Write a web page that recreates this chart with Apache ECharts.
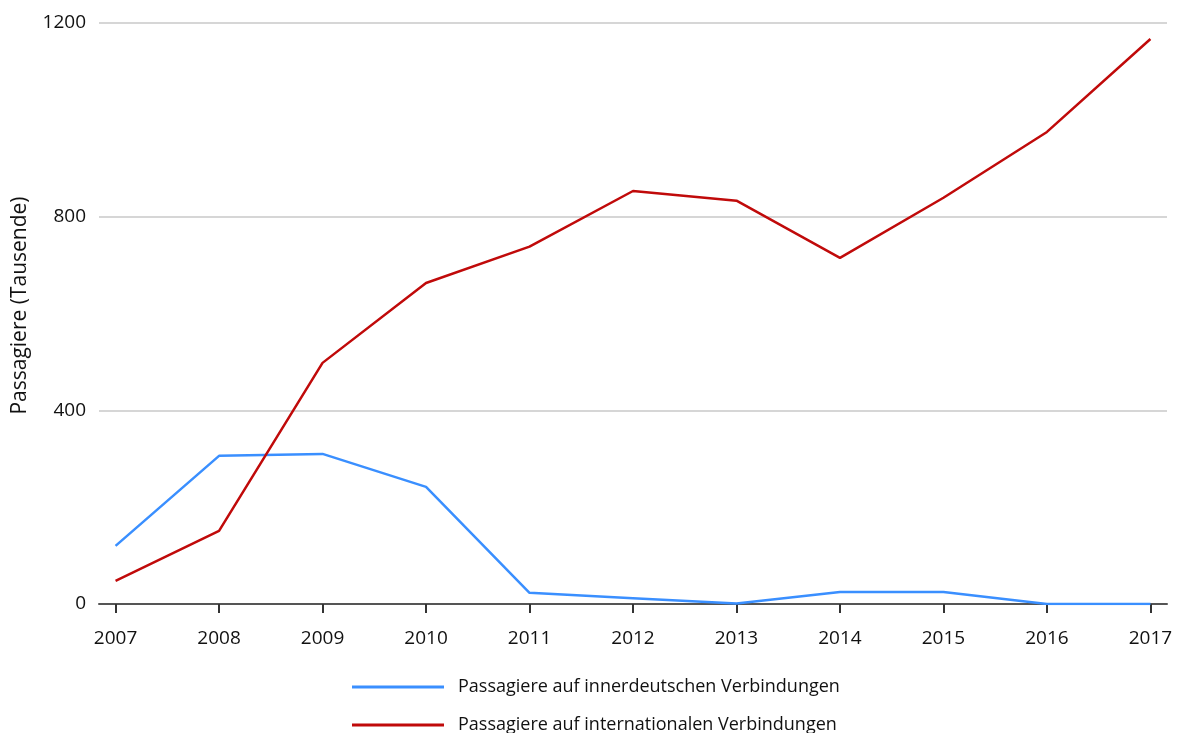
<!DOCTYPE html>
<html>
<head>
<meta charset="utf-8">
<script src="https://cdn.jsdelivr.net/npm/echarts@6/dist/echarts.min.js"></script>
<style>
html,body{margin:0;padding:0;background:#fff;}
#chart{width:1181px;height:733px;}
</style>
</head>
<body>
<div id="chart"></div>
<script>
const years = [2007, 2008, 2009, 2010, 2011, 2012, 2013, 2014, 2015, 2016, 2017];
const domestic = [120, 306, 310, 242, 23, 12, 1, 25, 25, 0, 0];
const international = [48, 151, 498, 663, 738, 853, 833, 715, 839, 975, 1167];
const yTicks = [0, 400, 800, 1200];
const seriesNames = ['Passagiere auf innerdeutschen Verbindungen', 'Passagiere auf internationalen Verbindungen'];
const yAxisName = 'Passagiere (Tausende)';

const font = 'Open Sans';
const legendBase = {
  orient: 'horizontal',
  left: 352,
  padding: 0,
  itemWidth: 92,
  itemHeight: 3,
  icon: 'rect',
  textStyle: {color: '#111', fontFamily: font, fontSize: 18, padding: [0, 0, 0, 9]}
};
const chart = echarts.init(document.getElementById('chart'));
chart.setOption({
  animation: false,
  backgroundColor: '#fff',
  grid: {left: 99, right: 14, top: 23, bottom: 129, containLabel: false},
  xAxis: {
    type: 'value',
    min: 2006.84,
    max: 2017.16,
    splitLine: {show: false},
    axisLine: {show: true, onZero: false, lineStyle: {color: '#555', width: 2}},
    axisTick: {show: true, customValues: years, length: 9, lineStyle: {color: '#333', width: 2}},
    axisLabel: {customValues: years, color: '#111', fontFamily: font, fontSize: 19, margin: 25,
      formatter: v => String(v)}
  },
  yAxis: {
    type: 'value',
    min: yTicks[0], max: yTicks[yTicks.length - 1], interval: yTicks[1] - yTicks[0],
    name: yAxisName,
    nameLocation: 'middle',
    nameGap: 68,
    nameTextStyle: {color: '#111', fontFamily: font, fontSize: 21, padding: [0, 0, 0, 16]},
    axisLine: {show: false},
    axisTick: {show: false},
    axisLabel: {color: '#111', fontFamily: font, fontSize: 19, margin: 13, formatter: v => String(v)},
    splitLine: {lineStyle: {color: '#c8c8c8', width: 1.5}}
  },
  legend: [
    Object.assign({}, legendBase, {top: 678, data: [seriesNames[0]]}),
    Object.assign({}, legendBase, {top: 716, data: [seriesNames[1]]})
  ],
  series: [
    {name: seriesNames[0], type: 'line', data: years.map((y, i) => [y, domestic[i]]),
      showSymbol: false, symbol: 'none', color: '#3a8fff', lineStyle: {width: 2.5, color: '#3a8fff'}},
    {name: seriesNames[1], type: 'line', data: years.map((y, i) => [y, international[i]]),
      showSymbol: false, symbol: 'none', color: '#c00a0a', lineStyle: {width: 2.5, color: '#c00a0a'}}
  ]
});
</script>
</body>
</html>
